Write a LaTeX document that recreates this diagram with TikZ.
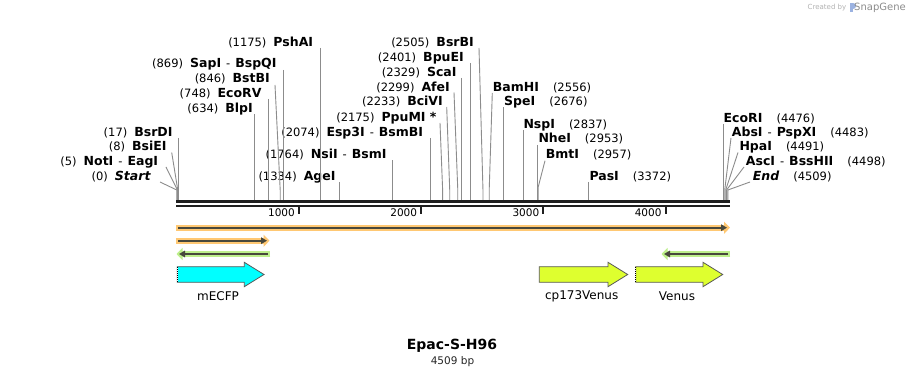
\documentclass[tikz,border=0pt]{standalone}
\usepackage{fontspec}
\setmainfont{DejaVu Sans}
\usetikzlibrary{calc,arrows.meta}
\definecolor{orglow}{RGB}{255,200,115}
\definecolor{grglow}{RGB}{190,240,140}
\definecolor{fdark}{RGB}{72,72,60}
\definecolor{ecfp}{RGB}{0,255,255}
\definecolor{venus}{RGB}{222,255,47}
\newcommand{\enz}[1]{{\fontsize{12.5}{14}\selectfont\bfseries #1}}
\newcommand{\gapl}{\hspace{7pt}}
\newcommand{\gapr}{\hspace{14pt}}
\newcommand{\dash}{\hspace{5pt}-\hspace{5pt}}

\begin{document}
\begin{tikzpicture}[x=1pt,y=-1pt,%
    enzl/.style={anchor=east,inner sep=0pt,text height=10pt,text depth=2pt,font=\fontsize{11.5}{13}\selectfont},%
    enzr/.style={enzl,anchor=west},%
    cut/.style={draw=black!45,line width=0.9pt},%
    bbone/.style={draw=black!88,line width=2.4pt},%
    tick/.style={draw=black!88,line width=2pt},%
    ticklab/.style={anchor=east,inner sep=0pt,font=\fontsize{10.5}{12}\selectfont},%
    glow/.style={line width=6pt},%
    thin/.style={draw=fdark,line width=2pt},%
    feat/.style={draw=black!65,line width=0.8pt},%
    featlab/.style={inner sep=0pt,font=\fontsize{12}{14}\selectfont},%
    ]
    % Cadre

    \fill[white] (0,0) rectangle (906,377);
    \useasboundingbox (0,0) rectangle (906,377);

    %
    % Définitions
    %
    \pgfmathsetmacro{\xo}{176.8};%
    \pgfmathsetmacro{\kx}{0.12222};%
    \pgfmathsetmacro{\yb}{201};%
    \pgfmathsetmacro{\yk}{190};%
    \coordinate (knee) at (0,\yk);

    % Sites sur le squelette
    \coordinate (s0) at ({\xo+\kx*0},\yb);
    \coordinate (s5) at ({\xo+\kx*5},\yb);
    \coordinate (s8) at ({\xo+\kx*8},\yb);
    \coordinate (s17) at ({\xo+\kx*17},\yb);
    \coordinate (s634) at ({\xo+\kx*634},\yb);
    \coordinate (s748) at ({\xo+\kx*748},\yb);
    \coordinate (s846) at ({\xo+\kx*846},\yb);
    \coordinate (s869) at ({\xo+\kx*869},\yb);
    \coordinate (s1175) at ({\xo+\kx*1175},\yb);
    \coordinate (s1334) at ({\xo+\kx*1334},\yb);
    \coordinate (s1764) at ({\xo+\kx*1764},\yb);
    \coordinate (s2074) at ({\xo+\kx*2074},\yb);
    \coordinate (s2175) at ({\xo+\kx*2175},\yb);
    \coordinate (s2233) at ({\xo+\kx*2233},\yb);
    \coordinate (s2299) at ({\xo+\kx*2299},\yb);
    \coordinate (s2329) at ({\xo+\kx*2329},\yb);
    \coordinate (s2401) at ({\xo+\kx*2401},\yb);
    \coordinate (s2505) at ({\xo+\kx*2505},\yb);
    \coordinate (s2556) at ({\xo+\kx*2556},\yb);
    \coordinate (s2676) at ({\xo+\kx*2676},\yb);
    \coordinate (s2837) at ({\xo+\kx*2837},\yb);
    \coordinate (s2953) at ({\xo+\kx*2953},\yb);
    \coordinate (s2957) at ({\xo+\kx*2957},\yb);
    \coordinate (s3372) at ({\xo+\kx*3372},\yb);
    \coordinate (s4476) at ({\xo+\kx*4476},\yb);
    \coordinate (s4483) at ({\xo+\kx*4483},\yb);
    \coordinate (s4491) at ({\xo+\kx*4491},\yb);
    \coordinate (s4498) at ({\xo+\kx*4498},\yb);
    \coordinate (s4509) at ({\xo+\kx*4509},\yb);

    % Départs des traits
    \coordinate (t0) at (160,182);
    \coordinate (t5) at (166,167);
    \coordinate (t8) at (171.7,152.5);
    \coordinate (t17) at (s17 |- 0,138);
    \coordinate (t634) at (s634 |- 0,114.5);
    \coordinate (t748) at (s748 |- 0,99);
    \coordinate (t846) at (275,85);
    \coordinate (t869) at (s869 |- 0,70);
    \coordinate (t1175) at (s1175 |- 0,48);
    \coordinate (t1334) at (s1334 |- 0,182);
    \coordinate (t1764) at (s1764 |- 0,160.5);
    \coordinate (t2074) at (s2074 |- 0,138);
    \coordinate (t2175) at (440,123);
    \coordinate (t2233) at (446.7,107);
    \coordinate (t2299) at (454,92.5);
    \coordinate (t2329) at (s2329 |- 0,78);
    \coordinate (t2401) at (s2401 |- 0,63);
    \coordinate (t2505) at (479,48);
    \coordinate (t2556) at (492.3,93);
    \coordinate (t2676) at (s2676 |- 0,107.5);
    \coordinate (t2837) at (s2837 |- 0,130);
    \coordinate (t2953) at (s2953 |- 0,145);
    \coordinate (t2957) at (545,160.7);
    \coordinate (t3372) at (s3372 |- 0,182);
    \coordinate (t4476) at (s4476 |- 0,124);
    \coordinate (t4483) at (731,138);
    \coordinate (t4491) at (738,152.5);
    \coordinate (t4498) at (744,167);
    \coordinate (t4509) at (750,182);

    % Enzymes à gauche
    \node[enzl] (start) at (150.7,176.7) {(0)\gapl\enz{\itshape Start}};
    \node[enzl] (noti) at (158.3,161.7) {(5)\gapl\enz{NotI}\dash\enz{EagI}};
    \node[enzl] (bsiei) at (166.7,146.7) {(8)\gapl\enz{BsiEI}};
    \node[enzl] (bsrdi) at (172.7,132.3) {(17)\gapl\enz{BsrDI}};
    \node[enzl] (blpi) at (253,108.7) {(634)\gapl\enz{BlpI}};
    \node[enzl] (ecorv) at (261.7,93.3) {(748)\gapl\enz{EcoRV}};
    \node[enzl] (bstbi) at (270,79) {(846)\gapl\enz{BstBI}};
    \node[enzl] (sapi) at (276.7,64) {(869)\gapl\enz{SapI}\dash\enz{BspQI}};
    \node[enzl] (pshai) at (313.3,42.7) {(1175)\gapl\enz{PshAI}};
    \node[enzl] (agei) at (335.7,176.7) {(1334)\gapl\enz{AgeI}};
    \node[enzl] (nsii) at (386.7,155) {(1764)\gapl\enz{NsiI}\dash\enz{BsmI}};
    \node[enzl] (esp3i) at (423.3,132.3) {(2074)\gapl\enz{Esp3I}\dash\enz{BsmBI}};
    \node[enzl] (ppumi) at (436.7,117.3) {(2175)\gapl\enz{PpuMI *}};
    \node[enzl] (bcivi) at (443,101.7) {(2233)\gapl\enz{BciVI}};
    \node[enzl] (afei) at (450,87.3) {(2299)\gapl\enz{AfeI}};
    \node[enzl] (scai) at (456.7,72.3) {(2329)\gapl\enz{ScaI}};
    \node[enzl] (bpuei) at (464,57.3) {(2401)\gapl\enz{BpuEI}};
    \node[enzl] (bsrbi) at (474,42.7) {(2505)\gapl\enz{BsrBI}};

    % Enzymes à droite
    \node[enzr] (bamhi) at (492.7,87.3) {\enz{BamHI}\gapr(2556)};
    \node[enzr] (spei) at (504,101.7) {\enz{SpeI}\gapr(2676)};
    \node[enzr] (nspi) at (523.3,124.7) {\enz{NspI}\gapr(2837)};
    \node[enzr] (nhei) at (538.3,139) {\enz{NheI}\gapr(2953)};
    \node[enzr] (bmti) at (545.7,155) {\enz{BmtI}\gapr(2957)};
    \node[enzr] (pasi) at (589.3,176.7) {\enz{PasI}\gapr(3372)};
    \node[enzr] (ecori) at (723.5,118.3) {\enz{EcoRI}\gapr(4476)};
    \node[enzr] (absi) at (731.7,132.3) {\enz{AbsI}\dash\enz{PspXI}\gapr(4483)};
    \node[enzr] (hpai) at (739.3,146.7) {\enz{HpaI}\gapr(4491)};
    \node[enzr] (asci) at (745.7,161.7) {\enz{AscI}\dash\enz{BssHII}\gapr(4498)};
    \node[enzr] (end) at (752.7,176.7) {\enz{\itshape End}\gapr(4509)};

    % Traits de coupure
    \draw[cut] (t0) -- (s0 |- knee) -- (s0);
    \draw[cut] (t5) -- (s5 |- knee) -- (s5);
    \draw[cut] (t8) -- (s8 |- knee) -- (s8);
    \draw[cut] (t17) -- (s17);
    \draw[cut] (t634) -- (s634);
    \draw[cut] (t748) -- (s748);
    \draw[cut] (t846) -- (s846 |- knee) -- (s846);
    \draw[cut] (t869) -- (s869);
    \draw[cut] (t1175) -- (s1175);
    \draw[cut] (t1334) -- (s1334);
    \draw[cut] (t1764) -- (s1764);
    \draw[cut] (t2074) -- (s2074);
    \draw[cut] (t2175) -- (s2175 |- knee) -- (s2175);
    \draw[cut] (t2233) -- (s2233 |- knee) -- (s2233);
    \draw[cut] (t2299) -- (s2299 |- knee) -- (s2299);
    \draw[cut] (t2329) -- (s2329);
    \draw[cut] (t2401) -- (s2401);
    \draw[cut] (t2505) -- (s2505 |- knee) -- (s2505);
    \draw[cut] (t2556) -- (s2556 |- knee) -- (s2556);
    \draw[cut] (t2676) -- (s2676);
    \draw[cut] (t2837) -- (s2837);
    \draw[cut] (t2953) -- (s2953);
    \draw[cut] (t2957) -- ([yshift=3pt]s2957 |- knee) -- (s2957);
    \draw[cut] (t3372) -- (s3372);
    \draw[cut] (t4476) -- (s4476);
    \draw[cut] (t4483) -- (s4483 |- knee) -- (s4483);
    \draw[cut] (t4491) -- (s4491 |- knee) -- (s4491);
    \draw[cut] (t4498) -- (s4498 |- knee) -- (s4498);
    \draw[cut] (t4509) -- (s4509 |- knee) -- (s4509);

    % Squelette
    \coordinate (bbl) at (176,201.7);
    \coordinate (bbr) at (730,201.7);
    \draw[bbone] (bbl) -- (bbr);
    \draw[bbone] ([yshift=-4.3pt]bbl) -- ([yshift=-4.3pt]bbr);

    % Graduations
    \coordinate (g1) at ({\xo+\kx*1000},207);
    \coordinate (g2) at ({\xo+\kx*2000},207);
    \coordinate (g3) at ({\xo+\kx*3000},207);
    \coordinate (g4) at ({\xo+\kx*4000},207);
    \draw[tick] (g1) -- ++(0,7);
    \draw[tick] (g2) -- ++(0,7);
    \draw[tick] (g3) -- ++(0,7);
    \draw[tick] (g4) -- ++(0,7);
    \node[ticklab] (l1) at ([xshift=-4pt,yshift=-6pt]g1) {1000};
    \node[ticklab] (l2) at ([xshift=-4pt,yshift=-6pt]g2) {2000};
    \node[ticklab] (l3) at ([xshift=-4pt,yshift=-6pt]g3) {3000};
    \node[ticklab] (l4) at ([xshift=-4pt,yshift=-6pt]g4) {4000};

    % Amorces
    \coordinate (pa) at (176,227.7);
    \coordinate (pb) at (730,227.7);
    \coordinate (pc) at (176,240.7);
    \coordinate (pd) at (269.5,240.7);
    \coordinate (pe) at (270,254);
    \coordinate (pf) at (176.5,254);
    \coordinate (pg) at (730,254);
    \coordinate (ph) at (661.5,254);
    \draw[glow,draw=orglow,-{Triangle[length=6pt,width=12pt]}] (pa) -- (pb);
    \draw[thin,-{Triangle[length=6pt,width=6.5pt]}] ([xshift=2pt]pa) -- ([xshift=-3pt]pb);
    \draw[glow,draw=orglow,-{Triangle[length=6pt,width=12pt]}] (pc) -- (pd);
    \draw[thin,-{Triangle[length=6pt,width=6.5pt]}] ([xshift=2pt]pc) -- ([xshift=-2.5pt]pd);
    \draw[glow,draw=grglow,-{Triangle[length=6pt,width=12pt]}] (pe) -- (pf);
    \draw[thin,-{Triangle[length=6pt,width=6.5pt]}] ([xshift=-2pt]pe) -- ([xshift=2.5pt]pf);
    \draw[glow,draw=grglow,-{Triangle[length=6pt,width=12pt]}] (pg) -- (ph);
    \draw[thin,-{Triangle[length=6pt,width=6.5pt]}] ([xshift=-2pt]pg) -- ([xshift=2.5pt]ph);

    % Gènes
    \draw[feat,fill=ecfp] (177.3,266.7) -- (244.3,266.7) -- (244.3,262.3) -- (264,274.5)
        -- (244.3,286.7) -- (244.3,282.3) -- (177.3,282.3) -- cycle;
    \draw[white,line width=1.5pt] (177.3,266.7) -- (177.3,282.3);
    \draw[black,line width=1.5pt,dash pattern=on 1pt off 1pt] (177.3,266.7) -- (177.3,282.3);
    \draw[feat,fill=venus] (539.3,266.7) -- (608,266.7) -- (608,262.3) -- (627.7,274.5)
        -- (608,286.7) -- (608,282.3) -- (539.3,282.3) -- cycle;
    \draw[feat,fill=venus] (635.7,266.7) -- (703,266.7) -- (703,262.3) -- (722.7,274.5)
        -- (703,286.7) -- (703,282.3) -- (635.7,282.3) -- cycle;
    \draw[white,line width=1.5pt] (635.7,266.7) -- (635.7,282.3);
    \draw[black,line width=1.5pt,dash pattern=on 1pt off 1pt] (635.7,266.7) -- (635.7,282.3);
    \node[featlab] (mecfp) at (218,296) {mECFP};
    \node[featlab] (cpvenus) at (581.7,296) {cp173Venus};
    \node[featlab] (venuslab) at (677,296) {Venus};

    % Titre
    \node[inner sep=0pt,font=\fontsize{14}{16}\bfseries] (title) at (452,345.5) {Epac-S-H96};
    \node[inner sep=0pt,font=\fontsize{10.5}{12}\selectfont,text=black!85] (len) at (452.5,361.5) {4509 bp};

    % Signature
    \node[inner sep=0pt,font=\fontsize{7}{8}\selectfont,text=black!30] (made) at (827,7.5) {Created by};
    \fill[cyan!45!blue!40] (849.5,3) rectangle (852.5,12);
    \fill[cyan!45!blue!40] (852.5,3) .. controls (857,3) and (857,9) .. (852.5,9) -- cycle;
    \node[inner sep=0pt,font=\fontsize{10}{11}\selectfont,text=black!45] (snapgene) at (880,7.5) {SnapGene};

\end{tikzpicture}
\end{document}
